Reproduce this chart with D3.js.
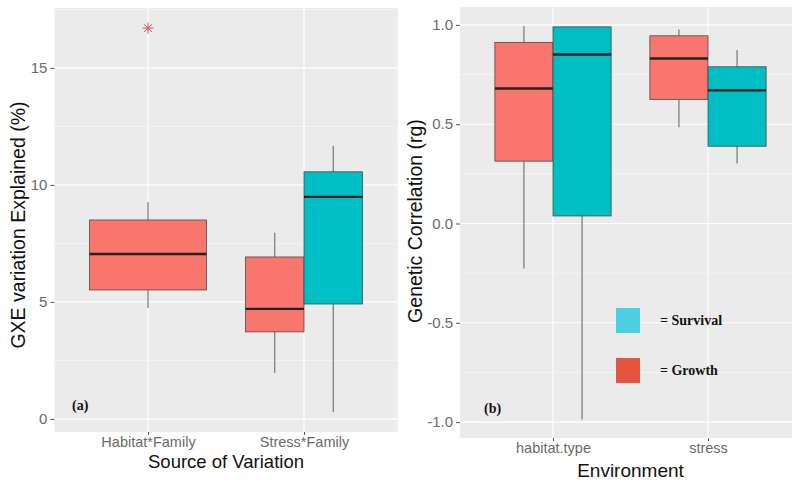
<!DOCTYPE html>
<html>
<head>
<meta charset="utf-8">
<script src="https://cdn.jsdelivr.net/npm/d3@7"></script>
<style>
  body { margin: 0; background: #fff; }
  svg { display: block; font-family: "Liberation Sans", Arial, sans-serif; }
</style>
</head>
<body>
<div id="chart"></div>
<script>
// panel (a): GxE variation explained, box stats = [whiskerLow, q1, median, q3, whiskerHigh]
var gxeCats = ["Habitat*Family", "Stress*Family"];
var gxeGrowth = [[4.74, 5.51, 7.05, 8.50, 9.27], [1.96, 3.72, 4.70, 6.92, 7.95]];
var gxeSurvival = [null, [0.30, 4.91, 9.49, 10.56, 11.67]];
var gxeOutliers = [{cat: "Habitat*Family", value: 16.7}];
var gxeTicks = [0, 5, 10, 15];

// panel (b): genetic correlation
var rgCats = ["habitat.type", "stress"];
var rgGrowth = [[-0.226, 0.314, 0.680, 0.912, 0.994], [0.484, 0.625, 0.831, 0.945, 0.977]];
var rgSurvival = [[-0.987, 0.038, 0.851, 0.990, 0.990], [0.302, 0.389, 0.670, 0.789, 0.873]];
var rgTicks = [-1.0, -0.5, 0.0, 0.5, 1.0];

var legendItems = ["= Survival", "= Growth"];

var growthCol = "#F8766D";
var survivalCol = "#00BFC4";

// plain hyphen for negatives, like the original
var locale = d3.formatLocale({decimal: ".", thousands: ",", grouping: [3], currency: ["", ""], minus: "-"});

var svg = d3.select("#chart").append("svg")
	.attr("width", 792)
	.attr("height", 482);

// ggplot shape 8: a plus and a cross
var star8 = {
	draw: function(context, size)
	{
		var r = Math.sqrt(size) / 2;
		var d = r * Math.SQRT1_2;
		context.moveTo(0, -r); context.lineTo(0, r);
		context.moveTo(-r, 0); context.lineTo(r, 0);
		context.moveTo(-d, -d); context.lineTo(d, d);
		context.moveTo(-d, d); context.lineTo(d, -d);
	}
};

function drawPanel(opt)
{
	var x = d3.scalePoint().domain(opt.cats).range(opt.xRange);
	var step = x.step();
	var y = d3.scaleLinear().domain(opt.yDomain).range(opt.yRange);
	var left = x(opt.cats[0]) - 0.6 * step;
	var right = x(opt.cats[opt.cats.length - 1]) + 0.6 * step;
	var g = svg.append("g");

	g.append("rect")
		.attr("x", left)
		.attr("y", opt.yRange[1])
		.attr("width", right - left)
		.attr("height", opt.yRange[0] - opt.yRange[1])
		.attr("fill", "#EBEBEB");

	// minor grid
	var minor = [];
	for(var i = 0; i < opt.ticks.length; i++)
	{
		minor.push(opt.ticks[i] - opt.tickStep / 2);
	}
	minor.push(opt.ticks[opt.ticks.length - 1] + opt.tickStep / 2);
	minor = minor.filter(function(v){ return v > opt.yDomain[0] && v < opt.yDomain[1]; });

	g.selectAll(".minor").data(minor).enter().append("line")
		.attr("x1", left).attr("x2", right)
		.attr("y1", function(d){ return y(d); })
		.attr("y2", function(d){ return y(d); })
		.attr("stroke", "#fff").attr("stroke-width", 0.6).attr("opacity", 0.8);

	g.selectAll(".major").data(opt.ticks).enter().append("line")
		.attr("x1", left).attr("x2", right)
		.attr("y1", function(d){ return y(d); })
		.attr("y2", function(d){ return y(d); })
		.attr("stroke", "#fff").attr("stroke-width", 1.1);

	g.selectAll(".vgrid").data(opt.cats).enter().append("line")
		.attr("x1", function(d){ return x(d); })
		.attr("x2", function(d){ return x(d); })
		.attr("y1", opt.yRange[1]).attr("y2", opt.yRange[0])
		.attr("stroke", "#fff").attr("stroke-width", 1.1);

	// boxes
	var boxes = [];
	opt.cats.forEach(function(c, i)
	{
		var hasG = opt.growth[i] != null;
		var hasS = opt.survival[i] != null;
		if(hasG && hasS)
		{
			boxes.push({cx: x(c) - 0.1875 * step, w: 0.375 * step, s: opt.growth[i], col: growthCol});
			boxes.push({cx: x(c) + 0.1875 * step, w: 0.375 * step, s: opt.survival[i], col: survivalCol});
		}
		else if(hasG)
		{
			boxes.push({cx: x(c), w: 0.75 * step, s: opt.growth[i], col: growthCol});
		}
		else if(hasS)
		{
			boxes.push({cx: x(c), w: 0.75 * step, s: opt.survival[i], col: survivalCol});
		}
	});

	var bg = g.selectAll(".box").data(boxes).enter().append("g");

	bg.append("line")
		.attr("x1", function(d){ return d.cx; })
		.attr("x2", function(d){ return d.cx; })
		.attr("y1", function(d){ return y(d.s[0]); })
		.attr("y2", function(d){ return y(d.s[4]); })
		.attr("stroke", "#6b6b6b").attr("stroke-width", 1.1);

	bg.append("rect")
		.attr("x", function(d){ return d.cx - d.w / 2; })
		.attr("width", function(d){ return d.w; })
		.attr("y", function(d){ return y(d.s[3]); })
		.attr("height", function(d){ return y(d.s[1]) - y(d.s[3]); })
		.attr("fill", function(d){ return d.col; })
		.attr("stroke", "#4a4a4a").attr("stroke-width", 0.8);

	bg.append("line")
		.attr("x1", function(d){ return d.cx - d.w / 2; })
		.attr("x2", function(d){ return d.cx + d.w / 2; })
		.attr("y1", function(d){ return y(d.s[2]); })
		.attr("y2", function(d){ return y(d.s[2]); })
		.attr("stroke", "#222").attr("stroke-width", 2.4);

	// axes
	var yAxis = d3.axisLeft(y).tickValues(opt.ticks).tickSize(4).tickPadding(3)
		.tickFormat(opt.fmt);
	var ya = g.append("g").attr("transform", "translate(" + left + ",0)").call(yAxis);
	ya.select(".domain").remove();
	ya.selectAll("line").attr("stroke", "#555");
	ya.selectAll("text").attr("fill", "#6a6a6a").style("font-size", "15px")
		.style("font-family", "'Liberation Sans', Arial, sans-serif");

	var xAxis = d3.axisBottom(x).tickSize(3).tickPadding(2);
	var xa = g.append("g").attr("transform", "translate(0," + opt.yRange[0] + ")").call(xAxis);
	xa.select(".domain").remove();
	xa.selectAll("line").attr("stroke", "#555");
	xa.selectAll("text").attr("fill", "#6a6a6a").style("font-size", "14.5px")
		.style("font-family", "'Liberation Sans', Arial, sans-serif");

	g.append("text")
		.attr("x", (left + right) / 2)
		.attr("y", opt.xTitleY)
		.attr("text-anchor", "middle")
		.style("font-size", opt.xTitleSize + "px")
		.attr("fill", "#111")
		.text(opt.xTitle);

	g.append("text")
		.attr("transform", "translate(" + opt.yTitleX + "," + opt.yTitleY + ") rotate(-90)")
		.attr("text-anchor", "middle")
		.style("font-size", "19.5px")
		.attr("fill", "#111")
		.text(opt.yTitle);

	g.append("text")
		.attr("x", opt.tag[0])
		.attr("y", opt.tag[1])
		.style("font-family", "'Liberation Serif', 'Times New Roman', serif")
		.style("font-weight", "bold")
		.style("font-size", "14px")
		.attr("fill", "#111")
		.text(opt.tagText);

	return {g: g, x: x, y: y};
}

var pa = drawPanel({
	cats: gxeCats, growth: gxeGrowth, survival: gxeSurvival,
	xRange: [148, 304], yDomain: [-0.56, 17.56], yRange: [432, 8],
	ticks: gxeTicks, tickStep: 5, fmt: locale.format("d"),
	xTitle: "Source of Variation", xTitleY: 468, xTitleSize: 18.5,
	yTitle: "GXE variation Explained (%)", yTitleX: 25, yTitleY: 225,
	tag: [72, 410], tagText: "(a)"
});

// outlier asterisk
pa.g.selectAll(".outlier").data(gxeOutliers).enter().append("path")
	.attr("transform", function(d){ return "translate(" + pa.x(d.cat) + "," + pa.y(d.value) + ")"; })
	.attr("d", d3.symbol().type(star8).size(120))
	.attr("fill", "none")
	.attr("stroke", "#E0504E")
	.attr("stroke-width", 1);

var pb = drawPanel({
	cats: rgCats, growth: rgGrowth, survival: rgSurvival,
	xRange: [553, 708], yDomain: [-1.08, 1.09], yRange: [438, 7],
	ticks: rgTicks, tickStep: 0.5, fmt: locale.format(".1f"),
	xTitle: "Environment", xTitleY: 477, xTitleSize: 19,
	yTitle: "Genetic Correlation (rg)", yTitleX: 422, yTitleY: 221,
	tag: [484, 413], tagText: "(b)"
});

// manual legend
var legendCols = ["#4DD0E1", "#E5533F"];
var lg = pb.g.append("g");
legendItems.forEach(function(t, i)
{
	lg.append("rect")
		.attr("x", 616)
		.attr("y", 308 + i * 50)
		.attr("width", 24)
		.attr("height", 25)
		.attr("fill", legendCols[i]);
	lg.append("text")
		.attr("x", 660)
		.attr("y", 325 + i * 50)
		.style("font-family", "'Liberation Serif', 'Times New Roman', serif")
		.style("font-weight", "bold")
		.style("font-size", "14px")
		.attr("fill", "#111")
		.text(t);
});
</script>
</body>
</html>
